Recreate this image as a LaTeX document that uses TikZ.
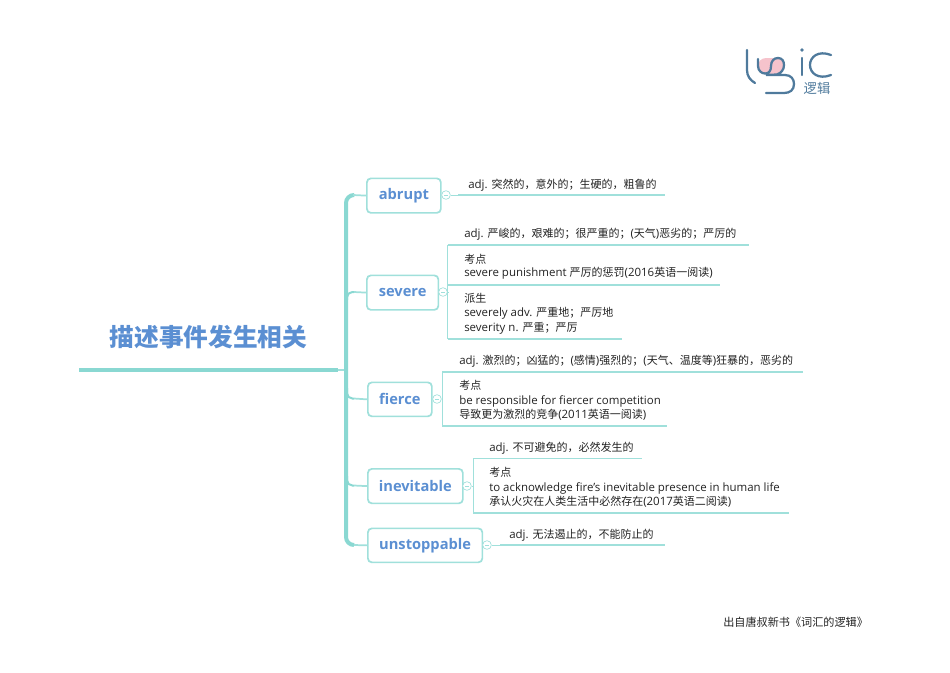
\documentclass[tikz,border=0pt]{standalone}
\usepackage{fontspec}
\setmainfont{Open Sans}
\newfontfamily\cjk{Noto Sans CJK SC}
\newcommand\zh[1]{{\cjk\fontsize{8.25}{11}\selectfont #1}}
\newcommand\cm{^^^^ff0c}
\newcommand\sm{^^^^ff1b}
\definecolor{teal1}{HTML}{8AD8D2}
\definecolor{teal2}{HTML}{A0E0DB}
\definecolor{blue1}{HTML}{5B8FD2}
\definecolor{logob}{HTML}{4F7A9C}
\definecolor{logop}{HTML}{F6C3CC}
\definecolor{txt}{HTML}{222222}
\tikzset{
  topic/.style={draw=teal2,line width=1.3pt,rounded corners=3pt,fill=white,inner sep=0pt,anchor=north west,text=blue1,font=\fontsize{11}{13}\selectfont\bfseries,align=center},
  leaf/.style={anchor=west,inner sep=0pt,align=left,text=txt,font=\fontsize{8.6}{11}\selectfont},
  tline/.style={draw=teal2,line width=1.3pt},
  collapse/.style={circle,draw=teal2,line width=.5pt,minimum size=6.5pt,inner sep=0pt,fill=white},
  logo/.style={draw=logob,line width=1.7pt,line cap=round}
}
\newcommand\tbox[6]{% name x1 y1 x2 y2 text
  \node[topic,minimum width=#4*0.75pt-#2*0.75pt,minimum height=#5*0.75pt-#3*0.75pt] (#1) at (#2,#3) {#6};}
\begin{document}
\begin{tikzpicture}[x=0.75pt,y=-0.75pt]
\useasboundingbox (0,0) rectangle (950,672);
% root
\node[inner sep=0pt,text=blue1,font=\cjk\fontsize{18.5}{20}\selectfont\bfseries] (root) at (208.5,337.5) {描述事件发生相关};
\coordinate (rl) at (79,370);
\coordinate (rr) at (338,370);
\draw[draw=teal1,line width=3.6pt] (rl) -- (rr);
\draw[draw=teal2,line width=1.3pt] (rr) -- (346,370);
% topics
\tbox{abrupt}{366}{177.5}{440}{212}{abrupt}
\tbox{severe}{366}{274.5}{437.5}{309}{severe}
\tbox{fierce}{367}{381.5}{431}{415.5}{fierce}
\tbox{inevitable}{367}{468}{462}{502.5}{inevitable}
\tbox{unstoppable}{367}{527.5}{481.5}{561.5}{unstoppable}
% trunk
\coordinate (tt) at (346,195);
\coordinate (tb) at (346,545);
\draw[draw=teal1,line width=3pt,rounded corners=6pt] (353,195) -- (tt) -- (tb) -- (354,545);
\draw[tline] (abrupt.west) -- (353,195);
\draw[tline] (unstoppable.west) -- (354,545);
\draw[draw=teal1,line width=1.5pt,rounded corners=4pt] (347,300) -- (347,292) -- (354,292);
\draw[tline] (354,292) -- (severe.west);
\draw[draw=teal1,line width=1.5pt,rounded corners=4pt] (347,388) -- (347,398.5) -- (354,398.5);
\draw[tline] (354,398.5) -- (fierce.west);
\draw[draw=teal1,line width=1.5pt,rounded corners=4pt] (347,476) -- (347,485.5) -- (354,485.5);
\draw[tline] (354,485.5) -- (inevitable.west);
% collapse marks
\foreach \n/\t/\x/\y in {ca/abrupt/446/195,cs/severe/443/292,cf/fierce/437/399,ci/inevitable/467/486,cu/unstoppable/487/545}{
  \draw[tline,line width=.6pt] (\t.east) -- (\x,\y);
  \node[collapse] (\n) at (\x,\y) {};
  \draw[draw=teal2,line width=.4pt] (\x-1.8,\y) -- (\x+1.8,\y);
}
% leaf lines
\coordinate (a1) at (458,195); \coordinate (a2) at (665,195);
\draw[tline,line width=.6pt] (ca) -- (a1);
\draw[tline] (a1) -- (a2);
\coordinate (s0) at (447.5,245); \coordinate (s1) at (749,245);
\coordinate (s2) at (447.5,285); \coordinate (s3) at (720,285);
\coordinate (s4) at (447.5,339); \coordinate (s5) at (622,339);
\draw[tline,line width=.7pt] (cs) -- (447.5,292);
\draw[tline,line width=.7pt] (s0) -- (s4);
\draw[tline] (s0) -- (s1); \draw[tline] (s2) -- (s3); \draw[tline] (s4) -- (s5);
\coordinate (f0) at (442,372); \coordinate (f1) at (803,372);
\coordinate (f2) at (442,426); \coordinate (f3) at (667,426);
\draw[tline,line width=.7pt] (f0) -- (f2);
\draw[tline,line width=.7pt] (cf) -- (442,399);
\draw[tline] (f0) -- (f1); \draw[tline] (f2) -- (f3);
\coordinate (i0) at (473,458.5); \coordinate (i1) at (642,458.5);
\coordinate (i2) at (473,513); \coordinate (i3) at (789,513);
\draw[tline,line width=.7pt] (i0) -- (i2);
\draw[tline,line width=.7pt] (ci) -- (473,486);
\draw[tline] (i0) -- (i1); \draw[tline] (i2) -- (i3);
\coordinate (u1) at (500,545); \coordinate (u2) at (665,545);
\draw[tline,line width=.6pt] (cu) -- (u1);
\draw[tline] (u1) -- (u2);
% leaf texts
\node[leaf] (t1) at (468,185) {adj. \zh{突然的\cm{}意外的\sm{}生硬的\cm{}粗鲁的}};
\node[leaf] (t2) at (464,234) {adj. \zh{严峻的\cm{}艰难的\sm{}很严重的\sm{}}(\zh{天气})\zh{恶劣的\sm{}严厉的}};
\node[leaf] (t3) at (464,266.5) {\zh{考点}\\[-1pt]severe punishment \zh{严厉的惩罚}(2016\zh{英语一阅读})};
\node[leaf] (t4) at (464,313.5) {\zh{派生}\\severely adv. \zh{严重地\sm{}严厉地}\\severity n. \zh{严重\sm{}严厉}};
\node[leaf] (t5) at (459,361) {adj. \zh{激烈的\sm{}凶猛的\sm{}}(\zh{感情})\zh{强烈的\sm{}}(\zh{天气、温度等})\zh{狂暴的\cm{}恶劣的}};
\node[leaf] (t6) at (459,400.5) {\zh{考点}\\be responsible for fiercer competition\\\zh{导致更为激烈的竞争}(2011\zh{英语一阅读})};
\node[leaf] (t7) at (489,448) {adj. \zh{不可避免的\cm{}必然发生的}};
\node[leaf] (t8) at (489,487.5) {\zh{考点}\\to acknowledge fire's inevitable presence in human life\\\zh{承认火灾在人类生活中必然存在}(2017\zh{英语二阅读})};
\node[leaf] (t9) at (509,535) {adj. \zh{无法遏止的\cm{}不能防止的}};
% footer
\node[inner sep=0pt,anchor=west,text=txt,font=\cjk\fontsize{8.35}{10}\selectfont] (foot) at (723,622) {出自唐叔新书《词汇的逻辑》};
% logo
\fill[logop,rounded corners=6pt] (758,58) rectangle (784,74);
\draw[logo] (747,50) -- (747,70) .. controls (747,76) and (750,80) .. (755,83);
\draw[logo] (758,59) -- (758,66) .. controls (758,71) and (762,73.5) .. (765,73.5) .. controls (769,73.5) and (771,71) .. (771,66) .. controls (771,61) and (774,58) .. (778,58) .. controls (782,58) and (784,61) .. (784,65) .. controls (784,70) and (781,73) .. (777,74.5) -- (766,75) -- (785,75) .. controls (791,75) and (794,79) .. (794,84) .. controls (794,90) and (790,93) .. (784,93) -- (766,93);
\fill[logob] (802,50) circle (1.8);
\draw[logo] (802,58) -- (802,75);
\draw[logo] (831,55) .. controls (818,50) and (810,57) .. (810,65) .. controls (810,73) and (818,80) .. (831,75);
\node[inner sep=0pt,text=logob,font=\cjk\fontsize{10}{11}\selectfont] (logotext) at (817,88) {逻辑};
\end{tikzpicture}
\end{document}
